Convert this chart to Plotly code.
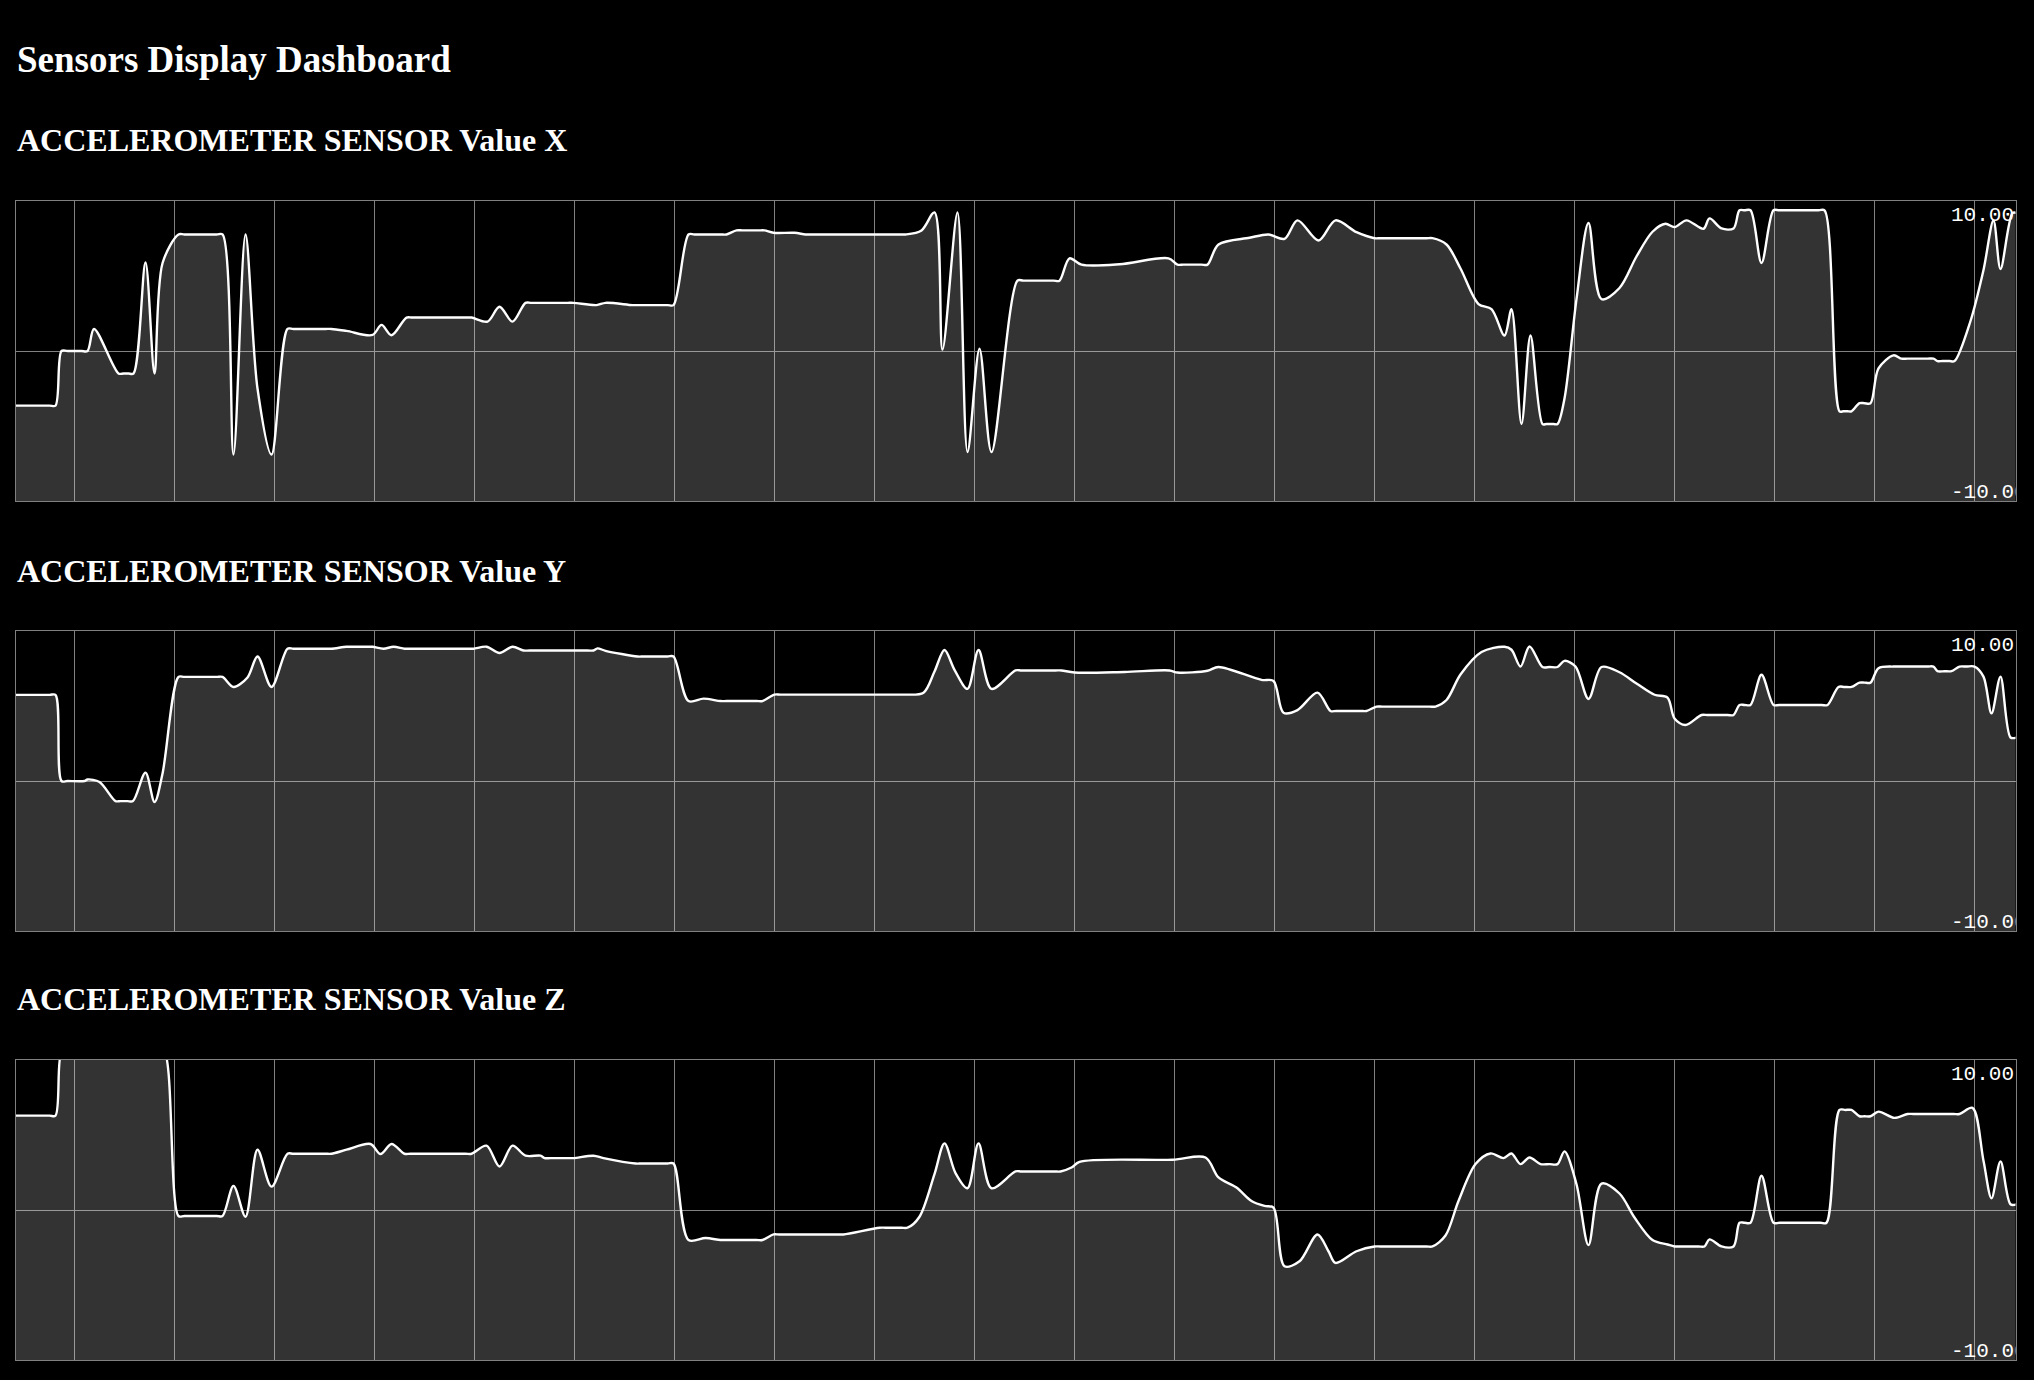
import plotly.graph_objects as go

# ---------------- data: (time in s, value) ----------------
X_POINTS = [
    (0.40, -3.64), (0.75, -3.64), (0.81, -3.64), (0.87, 0.0), (0.93, 0.0), (1.07, 0.0), (1.13, 0.0),
    (1.195, 1.47), (1.44, -1.5), (1.49, -1.5), (1.54, -1.5), (1.59, -1.5), (1.71, 5.9), (1.80, -1.5),
    (1.88, 5.85), (2.04, 7.77), (2.10, 7.77), (2.42, 7.77), (2.48, 7.77), (2.59, -6.9), (2.71, 7.77),
    (2.83, -2.5), (2.97, -6.9), (3.13, 1.47), (3.19, 1.47), (3.51, 1.47), (3.57, 1.47), (3.72, 1.34),
    (3.98, 1.07), (4.07, 1.74), (4.17, 1.05), (4.32, 2.23), (4.38, 2.23), (4.91, 2.23), (4.97, 2.23),
    (5.13, 1.96), (5.25, 2.95), (5.38, 1.96), (5.51, 3.21), (5.57, 3.21), (5.93, 3.21), (5.99, 3.21),
    (6.22, 3.06), (6.31, 3.21), (6.58, 3.06), (6.64, 3.06), (6.93, 3.06), (6.99, 3.06), (7.14, 7.77),
    (7.20, 7.77), (7.46, 7.77), (7.52, 7.77), (7.62, 8.04), (7.68, 8.04), (7.84, 8.04), (7.90, 8.04),
    (7.99, 7.88), (8.20, 7.88), (8.31, 7.77), (8.37, 7.77), (9.25, 7.77), (9.31, 7.77), (9.47, 8.04),
    (9.60, 9.24), (9.68, 0.09), (9.83, 9.24), (9.93, -6.74), (10.05, 0.16), (10.17, -6.74),
    (10.43, 4.69), (10.49, 4.69), (10.79, 4.69), (10.85, 4.69), (10.95, 6.18), (11.07, 5.76),
    (11.45, 5.78), (11.94, 6.18), (12.03, 5.76), (12.09, 5.76), (12.27, 5.76), (12.33, 5.76),
    (12.44, 7.1), (12.75, 7.55), (12.94, 7.77), (13.10, 7.48), (13.23, 8.71), (13.44, 7.37),
    (13.61, 8.71), (13.82, 7.92), (14.00, 7.52), (14.06, 7.52), (14.52, 7.52), (14.58, 7.52),
    (14.72, 7.1), (14.86, 5.5), (15.04, 3.13), (15.17, 2.79), (15.30, 1.03), (15.37, 2.79),
    (15.47, -4.87), (15.56, 1.03), (15.68, -4.87), (15.72, -4.87), (15.79, -4.87), (15.83, -4.87),
    (15.90, -3.17), (16.02, 3.46), (16.14, 8.53), (16.27, 3.46), (16.45, 4.2), (16.62, 6.3),
    (16.78, 7.95), (16.91, 8.48), (17.00, 8.26), (17.12, 8.71), (17.29, 8.15),
    (17.35, 8.84), (17.47, 8.17), (17.59, 8.17), (17.65, 9.38), (17.70, 9.38), (17.76, 9.38),
    (17.87, 5.87), (17.99, 9.38), (18.05, 9.38), (18.44, 9.38), (18.50, 9.38), (18.65, -4.02),
    (18.69, -4.02), (18.73, -4.02), (18.77, -4.02), (18.85, -3.48), (18.90, -3.48), (18.96, -3.48),
    (19.04, -1.16), (19.19, -0.29), (19.27, -0.51), (19.33, -0.51), (19.53, -0.51), (19.59, -0.51),
    (19.63, -0.67), (19.68, -0.67), (19.75, -0.67), (19.80, -0.67), (19.96, 2.0), (20.09, 5.4),
    (20.19, 8.7), (20.26, 5.47), (20.38, 9.2), (20.42, 9.2),
]

Y_POINTS = [
    (0.40, 5.74), (0.75, 5.74), (0.81, 5.74), (0.87, 0.0), (0.93, 0.0), (1.10, 0.0), (1.13, 0.1),
    (1.25, -0.07), (1.41, -1.34), (1.46, -1.34), (1.53, -1.34), (1.585, -1.34), (1.71, 0.56),
    (1.80, -1.4), (1.88, 0.49), (2.04, 6.94), (2.10, 6.94), (2.42, 6.94), (2.48, 6.94), (2.59, 6.27),
    (2.73, 6.9), (2.83, 8.3), (2.97, 6.27), (3.13, 8.82), (3.19, 8.82), (3.51, 8.82), (3.57, 8.82),
    (3.72, 8.95), (3.78, 8.95), (3.92, 8.95), (3.98, 8.95), (4.09, 8.82), (4.19, 8.95), (4.30, 8.82),
    (4.36, 8.82), (4.93, 8.82), (4.99, 8.82), (5.12, 8.95), (5.25, 8.53), (5.38, 8.95), (5.49, 8.7),
    (5.55, 8.7), (6.13, 8.7), (6.19, 8.7), (6.23, 8.84), (6.31, 8.68), (6.63, 8.3), (6.69, 8.3),
    (6.93, 8.3), (6.99, 8.3), (7.14, 5.33), (7.29, 5.49), (7.46, 5.33), (7.52, 5.33), (7.82, 5.33),
    (7.88, 5.33), (8.00, 5.76), (8.06, 5.76), (9.25, 5.76), (9.31, 5.76), (9.49, 5.89), (9.60, 7.3),
    (9.70, 8.73), (9.80, 7.41), (9.93, 6.14), (10.04, 8.73), (10.17, 6.14), (10.41, 7.37),
    (10.47, 7.37), (10.81, 7.37), (10.87, 7.37), (11.00, 7.23), (11.50, 7.27), (11.95, 7.37),
    (12.03, 7.23), (12.33, 7.35), (12.44, 7.6), (12.87, 6.74), (12.99, 6.67), (13.09, 4.55),
    (13.23, 4.73), (13.43, 5.89), (13.56, 4.67), (13.62, 4.67), (13.86, 4.67), (13.92, 4.67),
    (14.02, 4.96), (14.08, 4.96), (14.55, 4.96), (14.61, 4.96), (14.72, 5.4), (14.86, 7.1),
    (15.07, 8.6), (15.30, 8.95), (15.37, 8.75), (15.46, 7.63), (15.55, 8.97), (15.68, 7.6),
    (15.75, 7.6), (15.83, 7.6), (15.90, 8.01), (16.01, 7.63), (16.14, 5.47), (16.27, 7.6),
    (16.45, 7.25), (16.62, 6.5), (16.80, 5.75), (16.93, 5.56), (17.00, 4.17),
    (17.11, 3.73), (17.27, 4.4), (17.33, 4.4), (17.53, 4.4), (17.59, 4.4), (17.65, 5.07), (17.70, 5.07),
    (17.76, 5.07), (17.87, 7.08), (17.99, 5.07), (18.05, 5.07), (18.47, 5.07), (18.53, 5.07),
    (18.64, 6.27), (18.70, 6.27), (18.77, 6.27), (18.85, 6.56), (18.90, 6.56), (18.96, 6.56),
    (19.04, 7.52), (19.19, 7.63), (19.25, 7.63), (19.53, 7.63), (19.59, 7.63), (19.63, 7.32),
    (19.70, 7.32), (19.77, 7.32), (19.85, 7.63), (19.92, 7.63), (20.00, 7.63), (20.09, 6.96),
    (20.17, 4.51), (20.26, 6.96), (20.36, 2.9), (20.42, 2.9),
]

Z_POINTS = [
    (0.40, 6.29), (0.75, 6.29), (0.81, 6.29), (0.87, 10.5), (0.93, 10.5), (1.84, 10.5), (1.90, 10.5),
    (2.04, -0.4), (2.10, -0.4), (2.42, -0.4), (2.48, -0.4), (2.59, 1.61), (2.71, -0.45), (2.83, 4.02),
    (2.97, 1.56), (3.13, 3.75), (3.19, 3.75), (3.51, 3.75), (3.57, 3.75), (3.72, 4.02), (3.96, 4.4),
    (4.06, 3.73), (4.17, 4.4), (4.30, 3.75), (4.36, 3.75), (4.91, 3.75), (4.97, 3.75), (5.12, 4.29),
    (5.25, 2.9), (5.38, 4.29), (5.51, 3.62), (5.66, 3.62), (5.70, 3.46), (5.76, 3.46), (5.93, 3.46),
    (5.99, 3.46), (6.19, 3.62), (6.29, 3.46), (6.61, 3.1), (6.67, 3.1), (6.93, 3.1), (6.99, 3.1),
    (7.14, -2.0), (7.31, -1.87), (7.46, -2.0), (7.52, -2.0), (7.82, -2.0), (7.88, -2.0), (7.99, -1.63),
    (8.05, -1.63), (8.63, -1.63), (8.69, -1.63), (9.05, -1.18), (9.11, -1.18), (9.27, -1.18),
    (9.33, -1.18), (9.45, -0.45), (9.60, 2.39), (9.70, 4.44), (9.81, 2.46), (9.93, 1.45),
    (10.04, 4.44), (10.17, 1.45), (10.41, 2.57), (10.47, 2.57), (10.80, 2.57), (10.86, 2.57),
    (10.97, 2.83), (11.05, 3.21), (11.98, 3.35), (12.31, 3.5), (12.44, 2.17), (12.62, 1.5),
    (12.77, 0.6), (12.90, 0.27),
    (12.99, 0.16), (13.10, -3.75), (13.25, -3.42), (13.43, -1.63), (13.54, -2.75), (13.61, -3.53),
    (13.82, -2.75), (14.00, -2.43), (14.06, -2.43), (14.52, -2.43), (14.58, -2.43), (14.71, -1.7),
    (14.84, 0.6), (15.01, 3.06),
    (15.16, 3.77), (15.29, 3.46), (15.37, 3.77), (15.46, 3.06), (15.55, 3.5), (15.66, 3.06),
    (15.75, 3.06), (15.83, 3.06), (15.90, 3.91), (16.02, 1.72), (16.14, -2.34), (16.27, 1.76),
    (16.45, 1.1), (16.60, -0.5), (16.78, -2.0),
    (16.93, -2.3), (17.00, -2.43), (17.06, -2.43), (17.24, -2.43), (17.30, -2.43), (17.35, -1.96),
    (17.47, -2.43), (17.59, -2.43), (17.65, -0.85), (17.70, -0.85), (17.76, -0.85), (17.87, 2.28),
    (17.99, -0.85), (18.05, -0.85), (18.46, -0.85), (18.52, -0.85), (18.65, 6.67), (18.71, 6.67),
    (18.77, 6.67), (18.85, 6.25), (18.90, 6.25), (18.96, 6.25), (19.04, 6.56), (19.20, 6.14),
    (19.33, 6.4), (19.39, 6.4), (19.79, 6.4), (19.85, 6.4), (19.98, 6.81), (20.09, 3.28),
    (20.17, 0.78), (20.26, 3.24), (20.36, 0.38), (20.42, 0.38),
]

Y_MIN, Y_MAX = -10.0, 10.0
T_START, T_END = 0.41, 20.41
MAX_LABEL, MIN_LABEL = "10.00", "-10.00"

PAGE_TITLE = "Sensors Display Dashboard"
CHART_TITLES = ["ACCELEROMETER SENSOR Value X", "ACCELEROMETER SENSOR Value Y", "ACCELEROMETER SENSOR Value Z"]
SERIES = [X_POINTS, Y_POINTS, Z_POINTS]

# ---------------- layout geometry (pixels) ----------------
W, H = 2034, 1380
LEFT_PX, RIGHT_PX = 15.5, 2015.5
CHART_TOPS = [201, 631, 1060]
CHART_H = 300
SUB_BASELINES = [151, 582, 1010]

GRID = "#808080"
FILL = "rgba(255,255,255,0.2)"

fig = go.Figure()
layout = dict(
    width=W, height=H,
    margin=dict(l=0, r=0, t=0, b=0),
    paper_bgcolor="black", plot_bgcolor="black",
    showlegend=False,
    hovermode=False,
)

annotations = [dict(
    text="<b>%s</b>" % PAGE_TITLE, xref="paper", yref="paper",
    x=15.5 / W, y=1 - 59.5 / H, xanchor="left", yanchor="middle",
    showarrow=False, borderpad=0,
    font=dict(family="Liberation Serif, Times New Roman, serif", size=37, color="white"),
)]

for i, (pts, title) in enumerate(zip(SERIES, CHART_TITLES)):
    ts = [p[0] for p in pts]
    vs = [p[1] for p in pts]
    n = "" if i == 0 else str(i + 1)
    top = CHART_TOPS[i]
    bot = top + CHART_H
    layout["xaxis" + n] = dict(
        domain=[LEFT_PX / W, RIGHT_PX / W], range=[T_START, T_END],
        tick0=0, dtick=1, showticklabels=False, ticks="",
        showgrid=True, gridcolor=GRID, gridwidth=1.4, zeroline=False,
        showline=True, linecolor=GRID, linewidth=1.4, mirror=True,
        anchor="y" + n, fixedrange=True,
    )
    layout["yaxis" + n] = dict(
        domain=[1 - bot / H, 1 - top / H], range=[Y_MIN, Y_MAX],
        tickvals=[0], showticklabels=False, ticks="",
        showgrid=True, gridcolor=GRID, gridwidth=1.4, zeroline=False,
        showline=True, linecolor=GRID, linewidth=1.4, mirror=True,
        anchor="x" + n, fixedrange=True,
    )
    xa, ya = "x" + n, "y" + n
    # baseline at the bottom of the chart for the area fill
    fig.add_trace(go.Scatter(x=[T_START - 1, T_END + 1], y=[Y_MIN, Y_MIN], mode="lines",
                             line=dict(width=0, color="rgba(0,0,0,0)"), xaxis=xa, yaxis=ya,
                             hoverinfo="skip"))
    fig.add_trace(go.Scatter(x=ts, y=vs, mode="lines", fill="tonexty", fillcolor=FILL,
                             line=dict(color="white", width=2.4, shape="spline", smoothing=0.9),
                             xaxis=xa, yaxis=ya, hoverinfo="skip"))
    fig.add_trace(go.Scatter(x=[19.765, 19.765], y=[9.05, -9.45], mode="text",
                             text=[MAX_LABEL, MIN_LABEL], textposition="middle right",
                             textfont=dict(family="Liberation Mono, DejaVu Sans Mono, monospace",
                                           size=21, color="white"),
                             cliponaxis=True, xaxis=xa, yaxis=ya, hoverinfo="skip"))
    annotations.append(dict(
        text="<b>%s</b>" % title, xref="paper", yref="paper",
        x=15.5 / W, y=1 - (SUB_BASELINES[i] - 10.8) / H, xanchor="left", yanchor="middle",
        showarrow=False, borderpad=0,
        font=dict(family="Liberation Serif, Times New Roman, serif", size=32, color="white"),
    ))

layout["annotations"] = annotations
fig.update_layout(**layout)
fig.write_html("out.html", config={"displayModeBar": False})
